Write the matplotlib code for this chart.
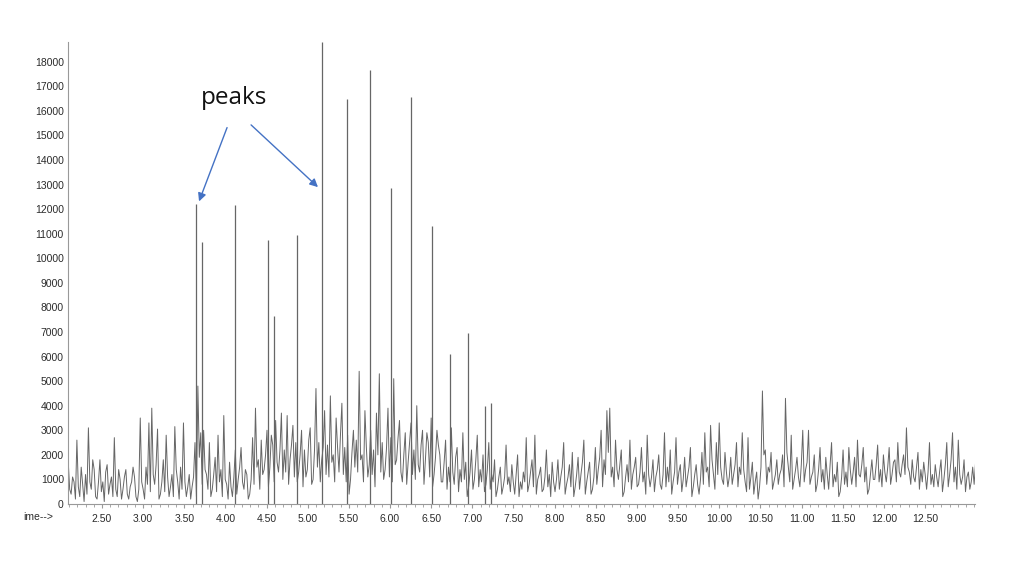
import numpy as np
import matplotlib
matplotlib.use("Agg")
import matplotlib.pyplot as plt
from matplotlib.ticker import MultipleLocator, FormatStrFormatter

# baseline noise, one reading every 0.035 min starting at 2.09 min
base_start = 2.09
base_step = 0.035
baseline = [
    1700, 400, 900, 2600, 300, 800, 1200, 3100, 600, 1400,
    200, 1800, 900, 1300, 400, 1100, 2700, 300, 1000, 600,
    1400, 200, 900, 1100, 100, 3500, 600, 1500, 3300, 3900,
    800, 3050, 400, 1800, 2800, 300, 1200, 3150, 900, 1500,
    3300, 300, 1200, 700, 2500, 4800, 2900, 3000, 1200, 2500,
    600, 1900, 2800, 1400, 3600, 800, 1700, 300, 2200, 1000,
    2300, 600, 1200, 400, 2700, 3900, 1800, 2600, 1400, 3000,
    1500, 2400, 3400, 1300, 3700, 2200, 3600, 1800, 3200, 2500,
    1300, 3000, 2200, 1400, 3100, 1000, 4700, 2500, 1800, 3800,
    2400, 4400, 2000, 3500, 1300, 4100, 2300, 2800, 1000, 3000,
    2600, 5400, 2000, 3800, 1100, 3000, 2200, 3700, 5300, 2500,
    1400, 3900, 2700, 5100, 1800, 3400, 900, 2900, 1700, 3300,
    2200, 4000, 1300, 3000, 1800, 2500, 3500, 1200, 3000, 2000,
    900, 2600, 1500, 3100, 800, 2300, 1400, 2900, 1700, 700,
    2200, 1000, 2800, 1400, 2000, 800, 2500, 1200, 1800, 600,
    1500, 700, 2400, 1100, 1600, 400, 2000, 900, 1300, 2700,
    800, 1800, 2800, 1000, 1500, 600, 2200, 1200, 1700, 500,
    1800, 1100, 2500, 800, 1600, 2100, 700, 1900, 1200, 2600,
    900, 1700, 600, 2300, 1400, 3000, 1800, 3800, 3900, 1500,
    2600, 1000, 2200, 500, 1600, 2600, 1200, 1900, 800, 2300,
    1300, 2800, 700, 1800, 1100, 2000, 600, 2900, 1500, 2200,
    900, 2700, 1300, 500, 1900, 1100, 2300, 700, 1600, 400,
    2100, 2900, 1500, 3200, 1200, 2500, 3300, 1000, 2100, 700,
    1900, 1200, 2500, 1500, 2900, 900, 2700, 1100, 400, 1300,
    700, 4600, 2200, 1500, 2100, 900, 1800, 1200, 2000, 4300,
    1500, 2800, 1000, 1900, 700, 3000, 1400, 3000, 1100, 2000,
    800, 2300, 1400, 1900, 600, 2500, 1200, 1700, 500, 2200,
    1300, 2300, 800, 1900, 2600, 1100, 2300, 1500, 600, 1800,
    1000, 2400, 1400, 2000, 900, 2300, 1200, 1800, 2500, 1100,
    2000, 3100, 1300, 1800, 900, 2100, 1400, 1700, 600, 2500,
    1200, 1600, 700, 1800, 1000, 2500, 1200, 2900, 1500, 2600,
    800, 1800, 1100, 600, 1500, 1700,
]

# readings halfway between the ones above
baseline_mid = [
    600, 1100, 200, 700, 1500, 100, 400, 900, 1800, 300,
    900, 500, 100, 1600, 800, 300, 600, 1400, 200, 1100,
    400, 700, 1500, 300, 600, 900, 200, 800, 500, 1200,
    1600, 200, 900, 500, 1100, 700, 300, 1400, 200, 600,
    900, 700, 200, 1100, 300, 1900, 800, 1400, 600, 300,
    1200, 500, 900, 300, 1000, 200, 700, 1100, 400, 1500,
    900, 1400, 200, 1000, 800, 1500, 600, 1200, 2000, 700,
    2800, 900, 1700, 2200, 1000, 1300, 800, 2400, 1100, 900,
    2000, 700, 1100, 2600, 800, 2200, 1500, 900, 2300, 1200,
    1100, 1700, 900, 2300, 2800, 1200, 900, 400, 2100, 1500,
    1300, 1800, 900, 2300, 1600, 1200, 700, 2000, 1300, 1000,
    2300, 1100, 900, 1600, 2700, 1300, 2000, 800, 2500, 1200,
    1000, 1600, 2400, 800, 2900, 1100, 700, 1900, 2400, 900,
    1700, 600, 900, 1300, 1900, 500, 900, 1000, 300, 1300,
    600, 1800, 700, 900, 500, 1400, 600, 900, 300, 1100,
    400, 1100, 800, 500, 900, 1200, 300, 600, 900, 500,
    1300, 700, 400, 1200, 500, 1100, 700, 300, 900, 1000,
    600, 1500, 400, 1100, 700, 300, 1200, 600, 1700, 400,
    1300, 400, 1100, 800, 1900, 700, 1200, 2100, 1100, 700,
    1400, 1600, 300, 1100, 900, 600, 1500, 700, 1300, 900,
    400, 1200, 1100, 500, 1400, 800, 1200, 700, 900, 400,
    1300, 800, 1600, 1000, 700, 1500, 300, 1200, 800, 1000,
    800, 1300, 700, 1800, 600, 1200, 1500, 800, 1300, 1100,
    800, 1600, 700, 1200, 1400, 500, 600, 1700, 900, 200,
    1500, 2000, 800, 1300, 600, 1200, 800, 1400, 700, 2100,
    900, 600, 1400, 1100, 1600, 900, 1700, 800, 1300, 500,
    1400, 900, 600, 1200, 1600, 700, 900, 300, 1100, 800,
    700, 1400, 1300, 700, 1200, 1600, 900, 400, 1200, 1000,
    1600, 900, 700, 1300, 1500, 800, 1700, 900, 1300, 1600,
    1200, 1500, 800, 1100, 1500, 600, 900, 1200, 1300, 800,
    700, 1100, 1300, 500, 1600, 700, 1800, 900, 600, 1200,
    1100, 500, 1300, 900, 800,
]

# tall peaks (retention time in min, abundance)
peak_times = [3.642, 3.715, 4.116, 4.517, 4.59, 4.869, 5.173, 5.477,
              5.756, 6.011, 6.254, 6.51, 6.728, 6.947, 7.154, 7.227]
peak_heights = [12200, 10650, 12150, 10750, 7650, 10950, 18800, 16500,
                17650, 12850, 16550, 11300, 6100, 6950, 4000, 4100]

signal = np.empty(len(baseline) + len(baseline_mid))
signal[0::2] = baseline
signal[1::2] = baseline_mid
times = base_start + base_step / 2 * np.arange(len(signal))

fig = plt.figure(figsize=(10.24, 5.70), dpi=100)
ax = fig.add_axes([68 / 1024, 66 / 570, 907 / 1024, 462 / 570])

ax.plot(times, signal, color="#666666", lw=0.7)
ax.vlines(peak_times, 0, peak_heights, color="#666666", lw=0.9)

ax.set_xlim(2.087, 13.108)
ax.set_ylim(0, 18800)
ax.xaxis.set_major_locator(MultipleLocator(0.5))
ax.xaxis.set_minor_locator(MultipleLocator(0.1))
ax.xaxis.set_major_formatter(FormatStrFormatter("%.2f"))
ax.yaxis.set_major_locator(MultipleLocator(1000))
ax.set_xticks(np.arange(2.5, 13.0, 0.5))

for s in ["top", "right"]:
    ax.spines[s].set_visible(False)
ax.spines["left"].set_color("#999999")
ax.spines["left"].set_linestyle((0, (2, 1)))
ax.spines["left"].set_linewidth(0.8)
ax.spines["bottom"].set_color("#999999")
ax.spines["bottom"].set_linewidth(0.8)

ax.tick_params(axis="y", length=0, pad=3, labelsize=7.5, labelcolor="#2b2b2b")
ax.tick_params(axis="x", which="major", length=3, color="#999999", pad=4,
               labelsize=7.5, labelcolor="#2b2b2b")
ax.tick_params(axis="x", which="minor", length=2, color="#999999")
for lab in ax.get_xticklabels() + ax.get_yticklabels():
    lab.set_fontfamily("Liberation Sans")

fig.text(23 / 1024, 1 - 517 / 570, "ime-->", fontsize=7.5, color="#2b2b2b",
         family="Liberation Sans", va="center")

fig.text(0.2285, 0.828, "peaks", fontsize=17.5, family="Open Sans",
         ha="center", va="center", color="#111111")
arrow = dict(arrowstyle="-|>", color="#4472C4", lw=1.0, mutation_scale=12)
ax.annotate("", xy=(0.1934, 0.6421), xycoords="figure fraction",
            xytext=(0.2227, 0.7807), textcoords="figure fraction", arrowprops=arrow)
ax.annotate("", xy=(0.3125, 0.6684), xycoords="figure fraction",
            xytext=(0.2432, 0.7842), textcoords="figure fraction", arrowprops=arrow)

fig.savefig("out.png", dpi=100)
